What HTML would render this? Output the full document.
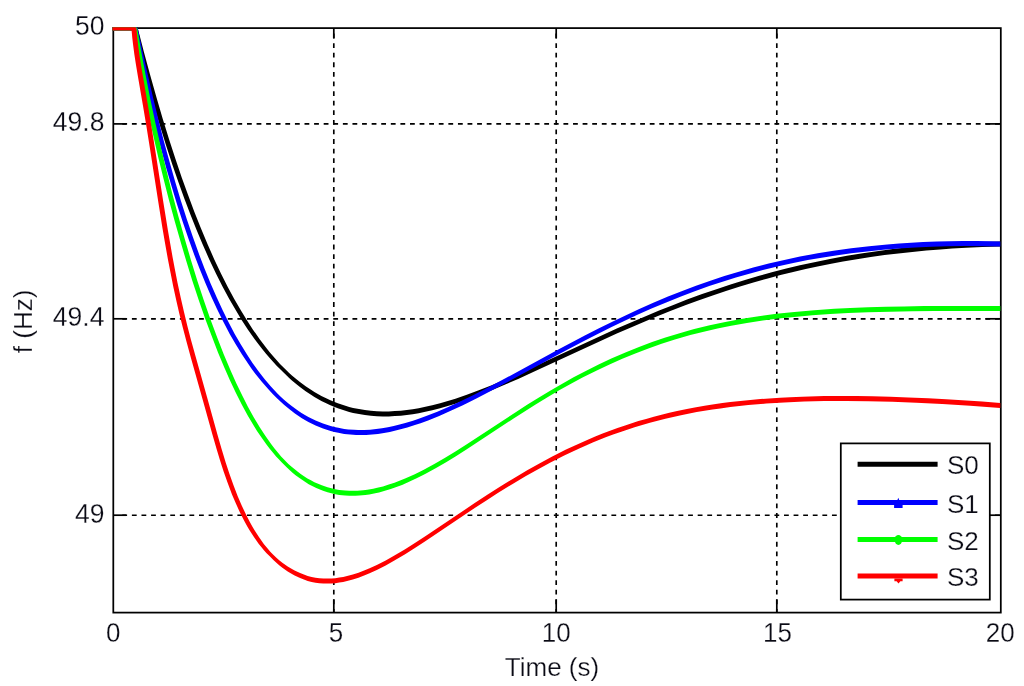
<!DOCTYPE html>
<html><head><meta charset="utf-8"><title>f (Hz) vs Time (s)</title>
<style>
html,body{margin:0;padding:0;background:#fff;}
body{width:1024px;height:686px;overflow:hidden;}
svg{display:block;}
.t{font-family:"Liberation Sans",sans-serif;fill:#0a0a14;stroke:#fff;stroke-width:0.25px;}
</style></head><body>
<svg width="1024" height="686" viewBox="0 0 1024 686">
<rect width="1024" height="686" fill="#fff"/>
<g stroke="#000" stroke-width="1.65" stroke-dasharray="4.8 4.79" fill="none">
<line x1="333.8" y1="33.6" x2="333.8" y2="612.6"/>
<line x1="556.2" y1="33.6" x2="556.2" y2="612.6"/>
<line x1="776.8" y1="33.6" x2="776.8" y2="612.6"/>
<line x1="122.3" y1="123.9" x2="1000.8" y2="123.9"/>
<line x1="122.3" y1="318.8" x2="1000.8" y2="318.8"/>
<line x1="122.3" y1="515.2" x2="1000.8" y2="515.2"/>
</g>
<g stroke="#000" stroke-width="1.7" fill="none">
<line x1="333.8" y1="28.1" x2="333.8" y2="38.3"/>
<line x1="333.8" y1="612.6" x2="333.8" y2="599.3000000000001"/>
<line x1="556.2" y1="28.1" x2="556.2" y2="38.3"/>
<line x1="556.2" y1="612.6" x2="556.2" y2="599.3000000000001"/>
<line x1="776.8" y1="28.1" x2="776.8" y2="38.3"/>
<line x1="776.8" y1="612.6" x2="776.8" y2="599.3000000000001"/>
<line x1="113.3" y1="123.9" x2="126.39999999999999" y2="123.9"/>
<line x1="1000.8" y1="123.9" x2="985.4" y2="123.9"/>
<line x1="113.3" y1="318.8" x2="126.39999999999999" y2="318.8"/>
<line x1="1000.8" y1="318.8" x2="985.4" y2="318.8"/>
<line x1="113.3" y1="515.2" x2="126.39999999999999" y2="515.2"/>
<line x1="1000.8" y1="515.2" x2="985.4" y2="515.2"/>
</g>
<rect x="113.3" y="28.1" width="887.5" height="584.5" fill="none" stroke="#000" stroke-width="1.75"/>
<path d="M133.3 30.6L142.3 64.9L148.2 86.1L154.3 107.2L160.1 126.3L166.1 145.4L172.3 164.4L178.2 181.4L184.3 198.4L190.7 215.2L196.6 230.0L202.8 244.8L209.3 259.4L216.2 273.9L222.5 286.4L229.1 298.7L235.1 309.1L241.3 319.4L247.8 329.4L254.7 339.2L258.3 344.0L262.0 348.8L265.8 353.4L269.7 358.0L276.4 365.4L284.6 373.6L288.9 377.7L291.9 380.4L296.5 384.2L299.6 386.7L306.0 391.5L311.0 394.8L314.4 397.0L321.4 400.9L326.7 403.6L330.4 405.3L334.0 406.8L337.8 408.3L341.6 409.6L345.4 410.8L349.2 411.9L353.1 412.9L359.0 414.1L364.9 415.1L370.9 415.8L376.8 416.2L382.8 416.4L388.8 416.4L394.8 416.1L400.8 415.7L406.8 415.0L412.7 414.2L418.7 413.2L426.5 411.6L432.3 410.2L440.1 408.2L447.8 406.0L455.4 403.7L466.8 399.8L478.1 395.6L491.1 390.5L505.8 384.3L518.7 378.7L533.2 372.1L591.3 345.2L616.8 333.6L631.5 327.2L644.3 321.7L657.3 316.3L670.3 311.1L685.2 305.3L698.3 300.5L713.4 295.2L726.7 290.7L740.0 286.5L753.4 282.5L766.9 278.7L780.5 275.1L792.1 272.2L805.7 269.0L817.5 266.5L831.2 263.7L843.0 261.5L856.8 259.2L870.7 257.0L884.5 255.1L898.4 253.4L912.3 251.9L926.3 250.5L940.2 249.4L952.2 248.5L966.2 247.7L982.2 247.0L1000.2 246.4L1000.3 246.3L1000.3 241.6L1000.2 241.4L976.2 242.2L954.2 243.4L932.3 245.0L910.4 247.1L894.5 248.8L878.6 250.9L862.7 253.2L846.9 255.8L831.2 258.7L815.5 261.9L799.9 265.3L786.3 268.6L772.7 272.1L759.2 275.8L745.8 279.8L730.5 284.5L717.2 288.9L702.1 294.1L687.0 299.6L672.1 305.4L659.1 310.6L646.2 315.9L631.5 322.2L616.8 328.6L591.3 340.2L533.2 367.1L518.7 373.7L505.8 379.3L491.1 385.5L478.1 390.6L466.8 394.8L455.4 398.7L447.8 401.0L440.1 403.2L432.3 405.2L426.5 406.6L418.7 408.2L412.7 409.2L406.8 410.0L400.8 410.7L394.8 411.1L388.8 411.4L382.8 411.4L376.8 411.2L370.9 410.8L364.9 410.1L359.0 409.1L353.1 407.9L349.2 406.9L345.4 405.8L341.6 404.6L337.8 403.3L334.0 401.8L330.4 400.3L326.7 398.6L321.4 395.9L314.4 392.0L311.0 389.8L306.0 386.5L299.6 381.7L296.5 379.2L291.9 375.4L288.9 372.7L284.6 368.6L280.0 363.9L273.4 356.5L269.5 351.9L265.8 347.2L259.7 339.2L252.8 329.4L247.4 321.0L241.1 310.8L234.1 298.7L227.5 286.4L221.2 273.9L214.3 259.4L207.8 244.8L200.9 228.2L194.2 211.5L187.9 194.6L181.8 177.7L175.4 158.7L169.2 139.7L162.7 118.7L156.5 97.6L150.0 74.5L143.7 51.3L137.7 28.1L136.7 27.2L112.4 27.2L112.4 30.6Z" fill="#000"/>
<path d="M135.9 43.5L141.0 67.0L145.9 88.5L151.0 109.9L155.8 129.3L160.9 148.6L166.2 167.9L171.8 187.1L177.0 204.3L182.6 221.5L188.4 238.5L193.8 253.6L199.5 268.5L205.6 283.4L211.1 296.2L217.0 308.9L223.2 321.5L229.7 333.9L235.7 344.3L242.0 354.6L248.7 364.6L252.1 369.5L255.7 374.3L262.0 382.1L268.6 389.6L272.7 394.0L276.7 397.9L281.0 402.0L284.0 404.7L290.1 409.8L294.9 413.4L298.2 415.7L301.5 417.9L304.9 420.0L308.4 422.0L312.0 423.8L315.6 425.5L319.3 427.1L323.0 428.5L326.8 429.8L330.6 431.0L334.4 432.0L338.3 432.8L344.2 433.9L350.2 434.6L356.1 434.9L360.1 435.0L366.1 434.9L372.1 434.5L378.0 433.9L384.0 433.0L389.8 431.9L395.7 430.6L401.5 429.1L407.3 427.5L414.9 425.1L420.6 423.2L428.1 420.4L439.2 415.9L450.2 411.1L462.9 405.2L475.4 399.0L487.9 392.6L502.0 385.1L558.3 354.6L583.0 341.5L597.2 334.2L611.6 327.1L624.2 321.0L636.9 315.1L651.5 308.6L666.2 302.4L681.0 296.4L694.1 291.5L709.2 286.1L722.5 281.7L735.9 277.6L749.3 273.7L762.9 270.1L778.4 266.3L792.1 263.2L807.8 260.1L821.6 257.7L837.5 255.2L851.3 253.3L867.2 251.4L883.2 249.8L899.1 248.5L915.1 247.5L931.1 246.8L947.1 246.3L965.1 246.1L983.1 246.2L1000.3 246.5L1000.3 241.5L991.1 241.3L977.1 241.1L963.1 241.1L949.1 241.3L937.1 241.6L923.1 242.1L911.1 242.7L899.1 243.5L887.2 244.5L869.2 246.2L851.3 248.3L833.5 250.8L817.7 253.3L800.0 256.6L784.3 259.9L768.7 263.6L753.2 267.6L739.7 271.4L724.4 276.1L711.1 280.5L696.0 285.8L682.9 290.7L668.0 296.6L653.3 302.8L638.7 309.3L626.0 315.2L613.4 321.2L599.0 328.3L584.8 335.6L558.3 349.6L500.3 381.1L486.1 388.5L473.6 394.9L461.1 401.0L448.3 406.9L437.3 411.7L426.2 416.1L418.7 418.8L413.0 420.7L405.3 423.1L399.6 424.6L393.7 426.1L387.9 427.3L382.0 428.3L376.1 429.1L370.1 429.7L364.1 430.0L358.1 430.0L354.1 429.8L348.2 429.4L344.2 428.9L338.3 427.8L334.4 427.0L330.6 426.0L326.8 424.8L323.0 423.5L319.3 422.1L315.6 420.5L312.0 418.8L308.4 417.0L304.9 415.0L301.5 412.9L298.2 410.7L291.7 406.1L288.5 403.6L284.0 399.7L281.0 397.0L277.4 393.6L270.9 386.6L264.5 379.0L258.3 371.1L252.5 362.9L247.0 354.6L240.7 344.3L234.7 333.9L229.1 323.3L222.9 310.8L217.0 298.0L210.6 283.4L204.5 268.5L198.8 253.6L192.7 236.6L186.9 219.6L180.8 200.5L175.1 181.4L169.6 162.1L163.8 140.9L158.4 119.6L153.2 98.2L147.8 74.8L142.6 51.4L137.7 27.9L137.0 27.2L112.4 27.2L112.4 30.4L133.2 30.4Z" fill="#00f"/>
<path d="M134.9 43.9L138.8 65.6L143.4 89.1L147.8 110.7L152.9 134.1L158.3 157.5L163.6 178.9L169.0 200.2L174.8 221.5L180.8 242.6L186.5 261.8L192.4 280.9L198.7 299.9L205.2 318.8L211.5 335.6L218.0 352.4L224.1 367.1L229.8 379.9L235.7 392.5L242.0 405.0L247.7 415.5L253.8 425.8L257.0 430.9L260.3 435.8L266.1 444.0L269.7 448.7L272.2 451.8L276.1 456.4L278.8 459.3L281.6 462.2L286.9 467.5L289.8 470.2L292.8 472.9L295.9 475.4L299.1 477.8L302.4 480.1L305.7 482.3L309.1 484.4L312.7 486.3L316.3 488.0L319.9 489.6L323.7 491.0L327.5 492.3L331.4 493.3L335.3 494.2L339.3 494.9L345.2 495.6L349.3 495.8L355.3 495.8L359.3 495.6L365.3 495.0L369.3 494.4L375.2 493.3L379.1 492.4L384.9 490.8L390.7 489.0L396.4 487.0L402.0 484.9L407.5 482.5L416.6 478.3L425.6 473.8L436.1 468.0L446.5 462.0L456.7 455.7L466.8 449.2L513.6 418.5L525.4 410.9L535.6 404.5L547.5 397.2L559.6 390.1L571.9 383.3L582.5 377.6L596.8 370.4L609.5 364.4L622.3 358.7L635.3 353.4L648.4 348.4L661.6 343.8L674.9 339.5L682.6 337.3L690.3 335.1L703.8 331.7L717.5 328.5L731.2 325.8L746.9 323.0L762.7 320.6L778.5 318.6L794.4 316.9L812.3 315.3L830.2 314.1L848.2 313.1L868.1 312.3L890.1 311.7L912.1 311.3L934.1 311.1L964.1 311.0L1000.2 311.1L1000.3 311.0L1000.3 306.3L1000.2 306.1L972.2 306.0L946.1 306.0L924.1 306.1L904.1 306.4L886.1 306.8L868.1 307.3L850.2 308.0L834.2 308.8L814.3 310.2L794.4 311.9L776.5 313.8L758.7 316.2L748.9 317.7L741.0 319.0L725.3 321.9L709.7 325.3L694.2 329.1L686.4 331.2L678.8 333.4L665.4 337.5L652.1 342.1L639.0 346.9L626.0 352.2L611.3 358.6L598.6 364.5L584.3 371.7L573.6 377.3L561.4 384.2L549.3 391.2L537.3 398.5L527.1 404.8L515.3 412.4L466.8 444.2L455.0 451.7L444.7 458.0L434.3 464.0L423.8 469.7L414.8 474.2L405.7 478.3L400.1 480.6L394.5 482.7L388.8 484.6L383.0 486.4L377.2 487.8L373.2 488.7L367.3 489.7L363.3 490.2L357.3 490.7L353.3 490.8L349.3 490.8L345.2 490.6L339.3 489.9L335.3 489.2L331.4 488.3L327.5 487.3L321.8 485.3L318.1 483.8L314.4 482.2L310.9 480.3L307.4 478.4L304.0 476.2L300.7 474.0L297.5 471.6L294.4 469.1L291.3 466.5L288.4 463.9L286.2 461.8L283.8 459.3L281.1 456.4L277.2 451.8L274.7 448.7L271.1 444.0L265.3 435.8L259.9 427.5L253.7 417.2L247.9 406.8L242.5 396.1L236.4 383.5L230.7 370.8L223.7 354.2L217.2 337.5L210.2 318.8L203.7 299.9L197.4 280.9L190.9 259.9L184.7 238.8L178.2 215.7L172.0 192.5L166.2 169.2L160.6 145.9L155.3 122.4L150.3 98.9L145.7 75.4L141.3 51.8L137.2 28.1L136.2 27.2L112.4 27.2L112.4 30.6L132.6 30.6Z" fill="#0f0"/>
<path d="M133.0 44.0L134.3 54.0L135.8 63.8L137.8 75.7L142.9 105.2L146.2 125.0L150.0 148.7L158.3 202.0L162.4 227.7L165.1 243.5L167.9 259.2L170.6 273.0L173.3 286.7L176.3 300.4L179.4 314.0L182.8 327.6L186.4 341.2L191.1 358.5L202.5 398.9L212.7 435.4L216.6 448.9L220.0 460.3L223.7 471.8L227.7 483.1L232.0 494.4L235.9 503.6L240.1 512.8L244.7 521.8L247.6 527.0L249.7 530.5L254.1 537.3L258.8 543.9L261.3 547.1L263.9 550.2L266.6 553.2L269.5 556.1L273.4 560.0L276.4 562.8L279.5 565.4L282.7 567.9L287.7 571.4L291.1 573.6L294.6 575.5L300.1 578.1L303.9 579.6L307.7 580.9L311.6 581.9L315.5 582.7L319.4 583.2L323.4 583.5L327.4 583.6L331.4 583.5L335.3 583.2L339.3 582.6L343.2 581.9L349.0 580.6L352.8 579.5L358.5 577.7L364.1 575.6L369.6 573.3L376.8 570.0L385.7 565.4L394.4 560.6L404.7 554.5L414.9 548.1L424.9 541.6L474.7 508.1L486.4 500.4L498.2 492.8L511.8 484.4L525.5 476.2L537.7 469.4L550.0 462.7L564.2 455.5L578.7 448.7L586.0 445.5L593.3 442.3L606.3 437.1L613.8 434.3L621.3 431.7L634.6 427.3L642.2 425.0L649.9 422.8L657.6 420.7L665.4 418.7L673.2 416.9L681.0 415.2L696.7 412.1L712.5 409.5L720.4 408.4L730.3 407.1L748.3 405.1L766.2 403.6L784.2 402.4L804.2 401.6L824.2 401.1L846.2 401.0L868.3 401.2L892.3 401.8L916.3 402.7L942.2 404.0L970.2 405.8L1000.2 408.0L1000.3 407.8L1000.3 403.1L1000.2 403.0L982.2 401.6L966.2 400.5L946.2 399.3L928.2 398.3L908.3 397.4L890.3 396.8L872.3 396.3L856.3 396.1L840.2 396.0L824.2 396.1L802.2 396.7L790.2 397.2L780.2 397.7L760.2 399.0L750.3 399.9L740.3 400.9L730.3 402.1L722.4 403.1L712.5 404.5L704.6 405.8L694.7 407.5L686.9 409.0L677.1 411.0L669.3 412.8L661.5 414.7L653.8 416.7L646.1 418.9L638.4 421.1L625.1 425.4L617.5 428.0L610.0 430.7L602.6 433.6L595.2 436.6L587.8 439.7L580.5 442.9L566.0 449.6L551.8 456.8L539.4 463.4L527.2 470.2L513.5 478.4L499.9 486.8L488.1 494.3L474.7 503.1L424.9 536.6L414.9 543.1L404.7 549.5L394.4 555.6L385.7 560.4L376.8 565.0L369.6 568.3L364.1 570.6L358.5 572.7L352.8 574.5L349.0 575.6L343.2 576.9L339.3 577.6L335.3 578.2L331.4 578.5L327.4 578.6L323.4 578.5L319.4 578.2L315.5 577.7L311.6 576.9L307.7 575.9L303.9 574.6L300.1 573.1L294.6 570.5L291.1 568.6L287.7 566.4L282.7 562.9L279.5 560.4L276.4 557.8L273.0 554.6L270.3 551.7L267.6 548.6L263.8 543.9L259.1 537.3L254.7 530.5L252.6 527.0L249.7 521.8L246.0 514.6L241.7 505.5L237.7 496.2L233.4 485.0L229.4 473.7L225.6 462.3L221.6 448.9L217.7 435.4L207.0 396.9L195.6 356.6L190.8 339.2L187.3 325.7L184.0 312.1L180.9 298.4L177.5 282.8L175.2 271.0L172.6 257.2L167.8 229.7L163.3 202.0L155.0 148.7L151.2 125.0L147.9 105.2L141.1 65.8L139.6 55.9L138.2 46.0L137.1 36.1L136.4 28.1L135.5 27.2L112.4 27.2L112.4 30.6L131.6 30.6L132.3 38.1Z" fill="#f00"/>
<rect x="840.8" y="443.4" width="149" height="156.2" fill="#fff" stroke="#000" stroke-width="1.75"/>
<line x1="857.6" y1="464.2" x2="937.6" y2="464.2" stroke="#000" stroke-width="5"/>
<text x="947" y="474.3" font-size="26" class="t">S0</text>
<line x1="857.6" y1="502.6" x2="937.6" y2="502.6" stroke="#00f" stroke-width="5"/>
<text x="947" y="512.7" font-size="26" class="t">S1</text>
<line x1="857.6" y1="539.4" x2="937.6" y2="539.4" stroke="#0f0" stroke-width="5"/>
<text x="947" y="549.5" font-size="26" class="t">S2</text>
<line x1="857.6" y1="576.0" x2="937.6" y2="576.0" stroke="#f00" stroke-width="5"/>
<text x="947" y="586.1" font-size="26" class="t">S3</text>
<path d="M897.2 500.4L898.3 497.7L899.4 500.4ZM894.1 504.8H902.6V508H894.1Z" fill="#00f"/>
<ellipse cx="898.4" cy="539.9" rx="3.7" ry="5" fill="#0f0"/>
<path d="M894.4 578.4H902.6V581.3H900.4L898.5 583.4L896.6 581.3H894.4Z" fill="#f00"/>
<text transform="translate(113.2 642.4) scale(1 1.09)" font-size="26" text-anchor="middle" class="t">0</text>
<text transform="translate(336.1 642.4) scale(1 1.09)" font-size="26" text-anchor="middle" class="t">5</text>
<text transform="translate(556.3 642.4) scale(1 1.09)" font-size="26" text-anchor="middle" class="t">10</text>
<text transform="translate(777.4 642.4) scale(1 1.09)" font-size="26" text-anchor="middle" class="t">15</text>
<text transform="translate(1000.2 642.4) scale(1 1.09)" font-size="26" text-anchor="middle" class="t">20</text>
<text transform="translate(104.4 35.4) scale(1.02 1.09)" font-size="26" text-anchor="end" class="t">50</text>
<text transform="translate(104.4 131.2) scale(1.02 1.09)" font-size="26" text-anchor="end" class="t">49.8</text>
<text transform="translate(104.4 326.1) scale(1.02 1.09)" font-size="26" text-anchor="end" class="t">49.4</text>
<text transform="translate(104.4 522.5) scale(1.02 1.09)" font-size="26" text-anchor="end" class="t">49</text>
<text x="552" y="675.7" font-size="26" text-anchor="middle" class="t">Time (s)</text>
<text transform="translate(32.2 321.4) rotate(-90)" font-size="26" text-anchor="middle" class="t">f (Hz)</text>
</svg>
</body></html>
